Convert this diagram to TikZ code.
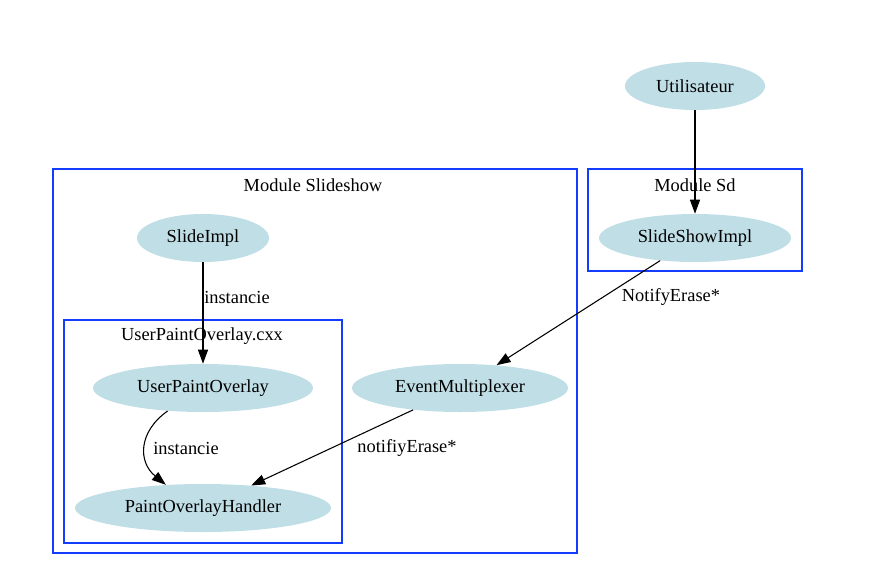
\documentclass[tikz,border=0pt]{standalone}
\usepackage{fontspec}
\setmainfont{Liberation Serif}
\usetikzlibrary{arrows.meta,shapes.geometric}
\definecolor{nodefill}{RGB}{192,222,230}
\definecolor{clusterblue}{RGB}{20,60,255}
\begin{document}
\begin{tikzpicture}[x=0.75pt,y=-0.75pt,
  every node/.style={font=\fontsize{13.8pt}{16pt}\selectfont},
  ell/.style={ellipse,fill=nodefill,draw=none,inner sep=0pt,minimum height=36pt},
  cluster/.style={draw=clusterblue,line width=0.9pt},
  edge/.style={draw=black,line width=0.8pt,-{Triangle[length=10.5pt,width=7.5pt]}},
  lbl/.style={inner sep=0pt}]
\useasboundingbox (0,0) rectangle (896,576);
% clusters
\draw[cluster] (53,169) rectangle (577,553);
\node[lbl] (cl1) at (313,185) {Module Slideshow};
\draw[cluster] (588,169) rectangle (802,271);
\node[lbl] (cl2) at (695,185) {Module Sd};
\draw[cluster] (64,320) rectangle (342,543);
\node[lbl] (cl3) at (202,336) {UserPaintOverlay.cxx};
% nodes
\node[ell,minimum width=105pt] (ut) at (695,86) {Utilisateur};
\node[ell,minimum width=144pt] (ssi) at (695,238) {SlideShowImpl};
\node[ell,minimum width=99pt] (si) at (203,238) {SlideImpl};
\node[ell,minimum width=165pt] (upo) at (203,388) {UserPaintOverlay};
\node[ell,minimum width=162pt] (em) at (460,388) {EventMultiplexer};
\node[ell,minimum width=192pt] (poh) at (203,508) {PaintOverlayHandler};
% edges
\draw[edge] (ut) -- (ssi);
\draw[edge] (si) -- (upo);
\node[lbl,anchor=west] (l1) at (204,297) {instancie};
\draw[edge] (upo.-147) .. controls (138,432) and (138,462) .. (poh.148);
\node[lbl,anchor=west] (l2) at (153,448) {instancie};
\draw[edge] (ssi.-147) -- (em.32);
\node[lbl] (l3) at (671,297) {NotifyErase*};
\draw[edge] (em.-155) -- (poh.25);
\node[lbl] (l4) at (407,448) {notifiyErase*};
\end{tikzpicture}
\end{document}
